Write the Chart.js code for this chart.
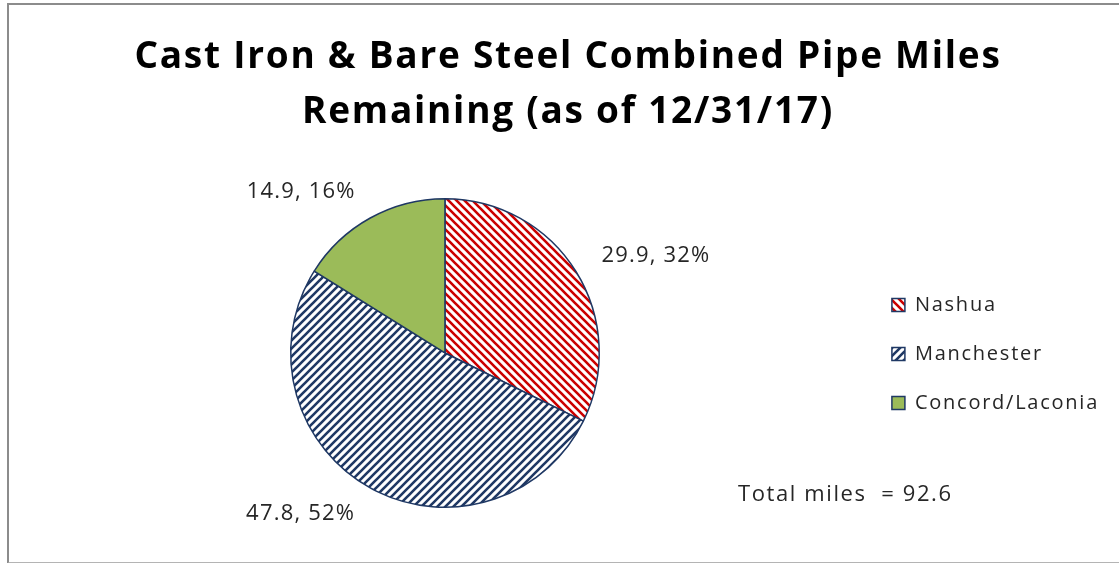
<!DOCTYPE html>
<html>
<head>
<meta charset="utf-8">
<script src="https://cdn.jsdelivr.net/npm/chart.js@4.4.1/dist/chart.umd.min.js"></script>
<style>
  html, body { margin: 0; padding: 0; background: #fff; }
  #wrap { position: relative; width: 1119px; height: 563px; }
  #frame { position: absolute; left: 7px; top: 3px; width: 1120px; height: 557px;
           border-left: 2px solid #8c8c8c; border-top: 2px solid #8c8c8c; border-bottom: 2px solid #b4b4b4; }
  canvas { position: absolute; left: 0; top: 0; }
</style>
</head>
<body>
<div id="wrap">
  <div id="frame"></div>
  <canvas id="myChart" width="1119" height="563"></canvas>
</div>
<script>
const regions = ["Nashua", "Manchester", "Concord/Laconia"];
const miles = [29.9, 47.8, 14.9];
const shares = [32, 52, 16];
const totalMiles = 92.6;
const titleLines = ["Cast Iron & Bare Steel Combined Pipe Miles", "Remaining (as of 12/31/17)"];

const navy = '#1f3864';
const red = '#cc0000';
const green = '#9bbb59';
const font = '"Open Sans", Lato, sans-serif';

function stripes(color, dir) {
  const s = 8;
  const c = document.createElement('canvas');
  c.width = s; c.height = s;
  const g = c.getContext('2d');
  g.fillStyle = '#fff';
  g.fillRect(0, 0, s, s);
  g.strokeStyle = color;
  g.lineWidth = 2.6;
  g.beginPath();
  if (dir === '\\') {
    g.moveTo(0, 0); g.lineTo(s, s);
    g.moveTo(-s, 0); g.lineTo(s, 2 * s);
    g.moveTo(0, -s); g.lineTo(2 * s, s);
  } else {
    g.moveTo(-s, s); g.lineTo(s, -s);
    g.moveTo(0, 2 * s); g.lineTo(2 * s, 0);
    g.moveTo(0, s); g.lineTo(s, 0);
  }
  g.stroke();
  return g.createPattern(c, 'repeat');
}

const fills = [stripes(red, '\\'), stripes(navy, '/'), green];

// the original text is wider than Open Sans, so spread it a little
const wideText = {
  id: 'wideText',
  beforeUpdate(chart) { chart.ctx.letterSpacing = '1.75px'; },
  beforeDraw(chart) { chart.ctx.letterSpacing = '1.75px'; }
};

const sliceLabels = {
  id: 'sliceLabels',
  afterDatasetsDraw(chart) {
    const ctx = chart.ctx;
    const meta = chart.getDatasetMeta(0);
    ctx.save();
    ctx.font = '22px ' + font;
    ctx.letterSpacing = '1.2px';
    ctx.fillStyle = '#262626';
    ctx.textBaseline = 'middle';
    meta.data.forEach((arc, i) => {
      const p = arc.getProps(['x', 'y', 'startAngle', 'endAngle', 'outerRadius'], true);
      const mid = (p.startAngle + p.endAngle) / 2;
      const d = p.outerRadius + 30;
      const x = p.x + Math.cos(mid) * d;
      const y = p.y + Math.sin(mid) * d;
      ctx.textAlign = Math.cos(mid) >= 0 ? 'left' : 'right';
      ctx.fillText(miles[i] + ', ' + shares[i] + '%', x, y);
    });
    ctx.letterSpacing = '1.6px';
    ctx.textAlign = 'left';
    ctx.fillText('Total miles  = ' + totalMiles, 738, 495);
    ctx.restore();
  }
};

new Chart(document.getElementById('myChart'), {
  type: 'pie',
  data: {
    labels: regions,
    datasets: [{
      data: miles,
      backgroundColor: fills,
      borderColor: navy,
      borderWidth: 1.5
    }]
  },
  options: {
    responsive: false,
    animation: false,
    layout: { padding: { left: 27, right: 10, top: 10, bottom: 55 } },
    plugins: {
      title: {
        display: true,
        text: titleLines,
        color: '#000',
        font: { family: font, size: 37, weight: 'bold', lineHeight: 1.486 },
        padding: { top: 20, bottom: 58 }
      },
      legend: {
        position: 'right',
        title: { display: true, text: '', font: { size: 10, lineHeight: 1.2 }, padding: { top: 178, bottom: 0 } },
        labels: {
          color: '#262626',
          font: { family: font, size: 20 },
          boxWidth: 13,
          boxHeight: 13,
          padding: 29
        }
      },
      tooltip: { enabled: false }
    }
  },
  plugins: [wideText, sliceLabels]
});
</script>
</body>
</html>
